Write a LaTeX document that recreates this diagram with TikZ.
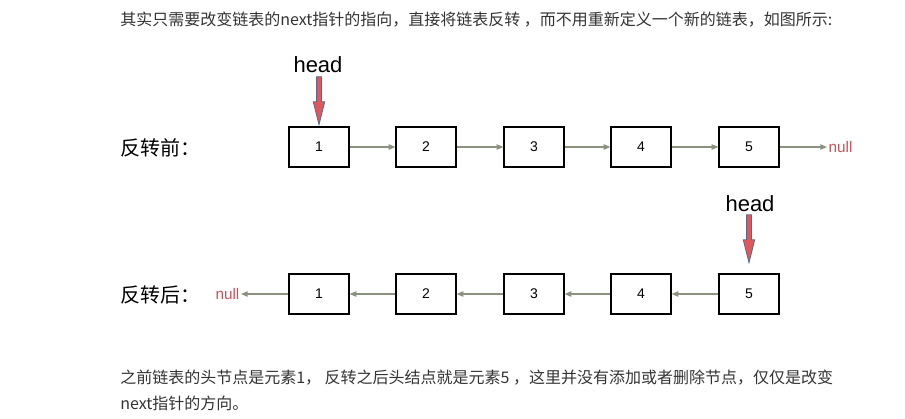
\documentclass[tikz,border=0pt]{standalone}
\usepackage{fontspec}
\setmainfont{Liberation Sans}
\newfontfamily\cjk{Noto Sans CJK SC}
\usepackage{tikz}
\usetikzlibrary{arrows.meta,shapes.arrows}

\definecolor{linkgray}{HTML}{8A917E}
\definecolor{nullred}{HTML}{C9525A}
\definecolor{headred}{HTML}{E0575E}
\definecolor{headblue}{HTML}{4F6E8C}
\definecolor{txtgray}{HTML}{333333}

\tikzset{
  nd/.style={draw, line width=0.9pt, minimum width=45pt, minimum height=30pt, font=\fontsize{10.5}{12}\selectfont},
  lnk/.style={draw=linkgray, line width=0.9pt, -{Triangle[length=5pt,width=4pt]}},
  nulltxt/.style={text=nullred, font=\fontsize{11.5}{13}\selectfont, inner sep=1pt},
  headtxt/.style={font=\fontsize{16.5}{18}\selectfont, inner sep=0pt},
  harrow/.style={single arrow, draw=headblue, fill=headred, line width=0.6pt, shape border rotate=270, minimum height=36pt, inner sep=1.5pt, single arrow head extend=2.5pt, single arrow tip angle=28, anchor=tip},
  body/.style={text=txtgray, font=\cjk\fontsize{12}{14}\selectfont, anchor=west, inner sep=0pt},
  side/.style={font=\cjk\fontsize{15}{18}\selectfont, anchor=west, inner sep=0pt}
}

\begin{document}
\begin{tikzpicture}[x=0.75pt,y=-0.75pt]
    \useasboundingbox (0,0) rectangle (905,418);
    \node[body] (t1) at (120,20) {其实只需要改变链表的next指针的指向，直接将链表反转 ，而不用重新定义一个新的链表，如图所示:};
    \node[body] (t2) at (120,378) {之前链表的头节点是元素1， 反转之后头结点就是元素5 ，这里并没有添加或者删除节点，仅仅是改变};
    \node[body] (t3) at (120,403) {next指针的方向。};
    \node[side] (l1) at (120,148) {反转前：};
    \node[side] (l2) at (120,295) {反转后：};
    \foreach \i/\x in {1/319,2/426,3/534,4/641,5/749} {
        \node[nd] (a\i) at (\x,147) {\i};
        \node[nd] (b\i) at (\x,294) {\i};
    }
    \foreach \i/\j in {1/2,2/3,3/4,4/5} {
        \draw[lnk] (a\i) -- (a\j);
        \draw[lnk] (b\j) -- (b\i);
    }
    \node[nulltxt, anchor=west] (z1) at (827,147) {null};
    \node[nulltxt, anchor=east] (z2) at (241,294) {null};
    \draw[lnk] (a5) -- (z1);
    \draw[lnk] (b1) -- (z2);
    \node[headtxt] (h1) at (318,65) {head};
    \node[headtxt] (h2) at (750,204) {head};
    \node[harrow] (p1) at (a1.north) {};
    \node[harrow] (p2) at ([yshift=6.75pt]b5.north) {};
\end{tikzpicture}
\end{document}
